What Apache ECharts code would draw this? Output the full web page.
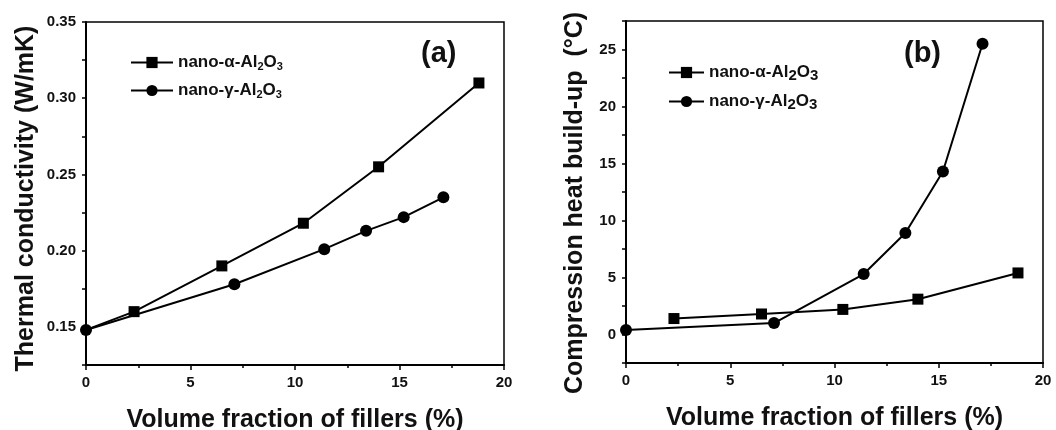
<!DOCTYPE html>
<html>
<head>
<meta charset="utf-8">
<script src="https://cdn.jsdelivr.net/npm/echarts@6/dist/echarts.min.js"></script>
<style>
  html, body { margin: 0; padding: 0; background: #fff; }
  #main { width: 1056px; height: 430px; }
</style>
</head>
<body>
<div id="main"></div>
<script>
// volume fraction (%) of each sample
const xAlpha = [0, 2.3, 6.5, 10.4, 14.0, 18.8]
const xGamma = [0, 7.1, 11.4, 13.4, 15.2, 17.1]
const xAlphaHeat = [2.3, 6.5, 10.4, 14.0, 18.8]

// (a) thermal conductivity, W/mK
const kAlpha = [0.148, 0.160, 0.190, 0.218, 0.255, 0.310]
const kGamma = [0.148, 0.178, 0.201, 0.213, 0.222, 0.235]

// (b) compression heat build-up, degC
const heatAlpha = [1.4, 1.8, 2.2, 3.1, 5.4]
const heatGamma = [0.4, 1.0, 5.3, 8.9, 14.3, 25.5]

const seriesNames = ['nano-α-Al2O3', 'nano-γ-Al2O3']

const font = "'Liberation Sans', Arial, sans-serif"
const pairs = (xs, ys) => xs.map((x, i) => [x, ys[i]])

const chart = echarts.init(document.getElementById('main'))

// Al2O3 with subscripts
const legendText = (name) => {
  const greek = name.indexOf('α') >= 0 ? 'α' : 'γ'
  return '{b|nano-' + greek + '-Al}{s|2}{b|O}{s|3}'
}

const legendBase = (left, top, itemWidth, subSize, subPad) => ({
  left: left,
  top: top,
  padding: 0,
  orient: 'vertical',
  itemWidth: itemWidth,
  itemHeight: 14,
  itemGap: 10,
  selectedMode: false,
  data: seriesNames,
  formatter: legendText,
  textStyle: {
    fontFamily: font,
    color: '#111',
    rich: {
      b: { fontSize: 17, fontWeight: 'bold', fontFamily: font, color: '#111' },
      s: { fontSize: subSize, fontWeight: 'bold', fontFamily: font, color: '#111',
           verticalAlign: 'bottom', padding: [subPad, 0, 0, 0] }
    }
  }
})

const xAxisBase = (gridIndex) => ({
  type: 'value',
  gridIndex: gridIndex,
  min: 0,
  max: 20,
  interval: 5,
  name: 'Volume fraction of fillers (%)',
  nameLocation: 'middle',
  nameGap: 43,
  nameTextStyle: { fontFamily: font, fontSize: 25, fontWeight: 'bold', color: '#111' },
  axisLine: { onZero: false, lineStyle: { color: '#000', width: 2 } },
  axisTick: { length: 5, lineStyle: { color: '#000', width: 1.5 } },
  minorTick: { show: true, splitNumber: 2, length: 3, lineStyle: { color: '#000', width: 1.5 } },
  axisLabel: { fontFamily: font, fontSize: 15, fontWeight: 'bold', color: '#111', margin: 10 },
  splitLine: { show: false }
})

// hideFirst: the first square sits under the shared circle at x = 0
const lineSeries = (name, data, symbol, xi, yi, hideFirst) => ({
  name: name,
  type: 'line',
  xAxisIndex: xi,
  yAxisIndex: yi,
  data: data,
  symbol: symbol,
  symbolSize: (val, params) => {
    if (hideFirst && params.dataIndex === 0) return 0
    return symbol === 'rect' ? 11 : 12
  },
  showAllSymbol: true,
  lineStyle: { color: '#000', width: 2 },
  itemStyle: { color: '#000', borderWidth: 0 },
  emphasis: { disabled: true },
  z: symbol === 'circle' ? 3 : 2
})

const option = {
  animation: false,
  backgroundColor: '#fff',
  title: [
    { text: '(a)', left: 416, top: 34, textStyle: { fontFamily: font, fontSize: 29, fontWeight: 'bold', color: '#111' } },
    { text: '(b)', left: 899, top: 34, textStyle: { fontFamily: font, fontSize: 29, fontWeight: 'bold', color: '#111' } }
  ],
  legend: [
    legendBase(130, 54, 42, 11, 8),
    legendBase(668, 64, 35, 15, 6)
  ],
  grid: [
    { left: 86, top: 22, width: 418, height: 343, outerBoundsMode: 'none', show: true, borderColor: '#000', borderWidth: 1.5 },
    { left: 626, top: 21, width: 417, height: 342, outerBoundsMode: 'none', show: true, borderColor: '#000', borderWidth: 1.5 }
  ],
  xAxis: [xAxisBase(0), xAxisBase(1)],
  yAxis: [
    {
      type: 'value',
      gridIndex: 0,
      min: 0.125,
      max: 0.35,
      interval: 0.025,
      name: 'Thermal conductivity (W/mK)',
      nameLocation: 'middle',
      nameGap: 47,
      nameTextStyle: { fontFamily: font, fontSize: 25, fontWeight: 'bold', color: '#111', padding: [0, 10, 0, 0] },
      axisLine: { show: true, onZero: false, lineStyle: { color: '#000', width: 2 } },
      axisTick: { length: 4, lineStyle: { color: '#000', width: 1.5 } },
      axisLabel: {
        fontFamily: font, fontSize: 15, fontWeight: 'bold', color: '#111', margin: 10,
        formatter: (v) => (Math.abs(Math.round(v * 1000) % 50) === 0 ? v.toFixed(2) : '')
      },
      splitLine: { show: false }
    },
    {
      type: 'value',
      gridIndex: 1,
      min: -2.5,
      max: 27.5,
      interval: 2.5,
      name: 'Compression heat build-up  (°C)',
      nameLocation: 'middle',
      nameGap: 38,
      nameTextStyle: { fontFamily: font, fontSize: 25, fontWeight: 'bold', color: '#111', padding: [0, 22, 0, 0] },
      axisLine: { show: true, onZero: false, lineStyle: { color: '#000', width: 2 } },
      axisTick: { length: 4, lineStyle: { color: '#000', width: 1.5 } },
      axisLabel: {
        fontFamily: font, fontSize: 15, fontWeight: 'bold', color: '#111', margin: 10,
        formatter: (v) => (Math.round(v * 10) % 50 === 0 ? String(v) : '')
      },
      splitLine: { show: false }
    }
  ],
  series: [
    lineSeries(seriesNames[0], pairs(xAlpha, kAlpha), 'rect', 0, 0, true),
    lineSeries(seriesNames[1], pairs(xGamma, kGamma), 'circle', 0, 0),
    lineSeries(seriesNames[0], pairs(xAlphaHeat, heatAlpha), 'rect', 1, 1),
    lineSeries(seriesNames[1], pairs(xGamma, heatGamma), 'circle', 1, 1)
  ]
}

chart.setOption(option)
</script>
</body>
</html>
